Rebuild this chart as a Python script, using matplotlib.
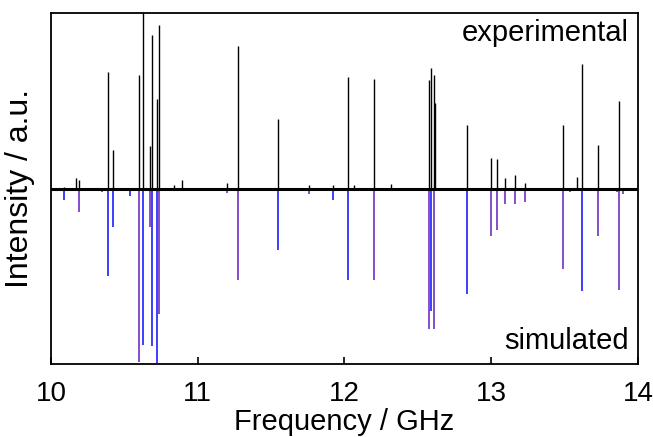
import matplotlib
matplotlib.use("Agg")
import matplotlib.pyplot as plt

plt.rcParams["font.family"] = ["Liberation Sans", "DejaVu Sans"]

# experimental stick positions (GHz) and relative intensities
exp_freq = [10.09, 10.17, 10.19, 10.386, 10.425, 10.597, 10.629, 10.677, 10.688,
            10.72, 10.736, 10.84, 10.89, 11.20, 11.276, 11.545, 11.756, 11.92,
            12.022, 12.065, 12.199, 12.32, 12.576, 12.587, 12.608, 12.619, 12.833,
            12.996, 13.04, 13.094, 13.162, 13.23, 13.487, 13.584, 13.618, 13.73, 13.87]
exp_int = [0.01, 0.063, 0.05, 0.665, 0.217, 0.646, 1.05, 0.24, 0.874,
           0.51, 0.93, 0.02, 0.046, 0.03, 0.81, 0.394, 0.02, 0.02,
           0.636, 0.02, 0.627, 0.027, 0.617, 0.69, 0.646, 0.49, 0.36,
           0.175, 0.166, 0.061, 0.078, 0.03, 0.36, 0.065, 0.709, 0.25, 0.50]

# simulated transitions, two groups (blue / purple)
sim_blue_freq = [10.09, 10.386, 10.425, 10.54, 10.629, 10.688, 10.72, 11.545,
                 11.92, 12.022, 12.587, 12.833, 13.618]
sim_blue_int = [0.063, 0.50, 0.22, 0.04, 0.89, 0.90, 0.995, 0.35,
                0.068, 0.52, 0.70, 0.60, 0.585]
sim_purple_freq = [10.19, 10.35, 10.597, 10.677, 10.736, 11.20, 11.276, 11.67,
                   11.756, 12.199, 12.576, 12.608, 12.996, 13.04, 13.094, 13.162,
                   13.23, 13.487, 13.537, 13.73, 13.859, 13.87, 13.895]
sim_purple_int = [0.135, 0.017, 0.99, 0.22, 0.716, 0.027, 0.52, 0.01,
                  0.03, 0.52, 0.80, 0.80, 0.27, 0.235, 0.09, 0.09,
                  0.078, 0.456, 0.02, 0.27, 0.02, 0.576, 0.03]

fig = plt.figure(figsize=(6.53, 4.37), dpi=100)
ax = fig.add_axes([0.078, 0.167, 0.899, 0.803])

ax.vlines(sim_blue_freq, 0, [-v for v in sim_blue_int], color="#1e1eff", lw=1.2)
ax.vlines(sim_purple_freq, 0, [-v for v in sim_purple_int], color="#7030c0", lw=1.2)
ax.vlines(exp_freq, 0, exp_int, color="black", lw=1.0)
ax.axhline(0, color="black", lw=2.2)

ax.set_xlim(10, 14)
ax.set_ylim(-1, 1)
ax.set_xticks([10, 11, 12, 13, 14])
ax.set_yticks([0])
ax.set_yticklabels([])
ax.tick_params(axis="x", direction="in", length=5, width=1.2, labelsize=20, pad=12)
ax.tick_params(axis="y", direction="in", length=5, width=1.2)
for s in ax.spines.values():
    s.set_linewidth(1.3)

ax.set_xlabel("Frequency / GHz", fontsize=21, labelpad=1)
ax.set_ylabel("Intensity / a.u.", fontsize=23, labelpad=8)

ax.text(0.985, 0.982, "experimental", transform=ax.transAxes, ha="right", va="top", fontsize=21)
ax.text(0.985, 0.025, "simulated", transform=ax.transAxes, ha="right", va="bottom", fontsize=21)

fig.savefig("out.png", dpi=100)
